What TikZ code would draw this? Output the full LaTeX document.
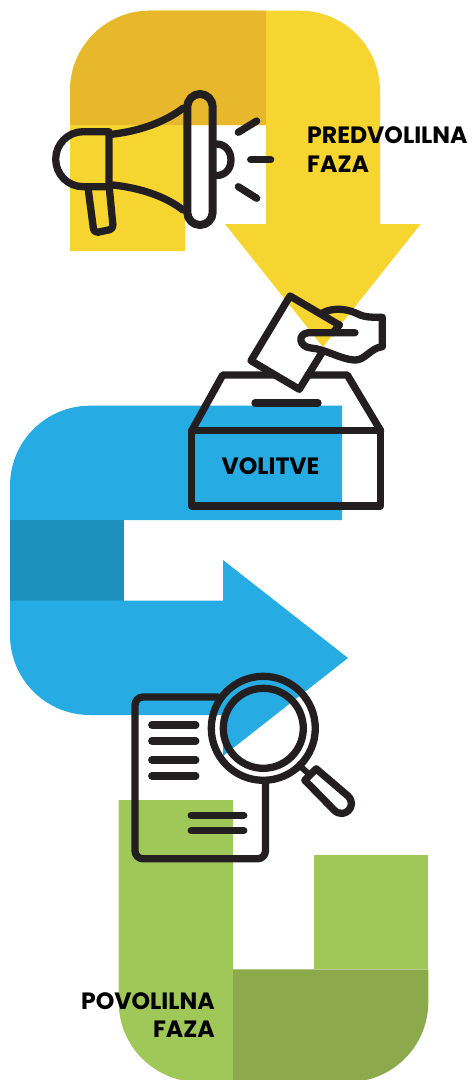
\documentclass[tikz,border=0pt]{standalone}
\usepackage{fontspec}
\usepackage{xcolor}
\setmainfont{Poppins}
\definecolor{volyellow}{RGB}{247,213,48}
\definecolor{volyellowdark}{RGB}{232,184,44}
\definecolor{volblue}{RGB}{38,171,226}
\definecolor{volbluedark}{RGB}{30,144,190}
\definecolor{volgreen}{RGB}{159,200,88}
\definecolor{volgreendark}{RGB}{140,170,75}
\definecolor{iconink}{RGB}{35,31,32}

\begin{document}
\begin{tikzpicture}[
		x=1pt, y=-1pt,
		icon/.style={draw=iconink, line width=7.3pt, line join=round, line cap=round},
		phase/.style={font=\bfseries\fontsize{23.6}{23.6}\selectfont, inner sep=0pt, text=black}
	]
		\useasboundingbox (0,0) rectangle (472,1080);
		% yellow arrow
		\fill[volyellow] (70,251) [rounded corners=80pt] -- (70,10.7) -- (380,10.7) [sharp corners] -- (380,224) -- (420.7,224) -- (323,347) -- (225,224) -- (266,224) -- (266,125) -- (185,125) -- (185,251) -- cycle;
		\fill[volyellowdark] (70,125) [rounded corners=80pt] -- (70,10.7) [sharp corners] -- (266,10.7) -- (266,125) -- cycle;
		% blue arrow
		\fill[volblue] (342,405.7) [rounded corners=80pt] -- (10,405.7) [sharp corners] -- (10,520) -- (342,520) -- cycle;
		\fill[volbluedark] (10,520) rectangle (124,600.7);
		\fill[volblue] (10,600.7) [rounded corners=80pt] -- (10,715) [sharp corners] -- (223,715) -- (223,756) -- (348,658) -- (223,560) -- (223,600.7) -- cycle;
		% green arrow
		\fill[volgreen] (118.7,800) [rounded corners=80pt] -- (118.7,1082) [sharp corners] -- (233,1082) -- (233,800) -- cycle;
		\fill[volgreen] (314,855.3) rectangle (428.3,969.3);
		\fill[volgreendark] (233,969.3) -- (428.3,969.3) [rounded corners=80pt] -- (428.3,1082) [sharp corners] -- (233,1082) -- cycle;
		% megaphone
		\draw[icon, line width=8pt, rounded corners=12.7pt] (187.3,94) rectangle (212.7,225);
		\draw[icon] (109,131.7) -- (83,131.7) .. controls (68,131.7) and (55.7,144) .. (55.7,159.2) .. controls (55.7,174.4) and (68,186.7) .. (83,186.7) -- (109,186.7) -- cycle;
		\draw[icon] (111.7,134.3) .. controls (140,131) and (165,122) .. (183.3,108);
		\draw[icon] (113,185) .. controls (140,188) and (165,196) .. (183,210);
		\draw[icon, rounded corners=4pt] (88.3,190) -- (94,233) -- (113.3,229) -- (109.3,188);
		\draw[icon] (216.7,144) .. controls (225,144) and (231,151) .. (231,160) .. controls (231,169) and (225,175.5) .. (216.7,175.5);
		\foreach \a/\b/\c/\d in {238.3/132.3/256.7/121, 250.7/159.7/270.7/159.7, 238.3/186.7/256.7/198.3}
			\draw[icon] (\a,\b) -- (\c,\d);
		% ballot box
		\draw[icon] (191.7,430.7) rectangle (380.7,506);
		\draw[icon] (275,375) -- (222.7,375) -- (191.7,430.7);
		\draw[icon] (308,375) -- (347.3,375) -- (380.7,430.7);
		\draw[icon] (255,403) -- (318,403);
		\draw[icon] (339.3,325) -- (290,296) -- (251,360.7) -- (299.3,389.3) -- (321.7,353);
		\draw[icon] (321.7,313.3) .. controls (335,306) and (350,310) .. (358,314) .. controls (366,318) and (374,317) .. (382.3,317.3) -- (382.3,346.7) .. controls (370,348) and (365,361) .. (354,360) .. controls (340,359) and (325,349) .. (311,348) .. controls (299,347) and (297,334) .. (308.3,332.7) -- (355,332.7);
		\draw[icon] (339.3,325) -- (333,332.7);
		% document and lens
		\draw[icon, rounded corners=8pt] (218,697) -- (135,697) -- (135,858.8) -- (265.5,858.8) -- (265.5,784);
		\foreach \y in {725,741,760,776}
			\draw[icon] (151.8,\y) -- (195.8,\y);
		\foreach \y in {815.3,830.7}
			\draw[icon] (191.2,\y) -- (243.8,\y);
		\draw[icon] (263.3,728.3) circle[radius=52pt];
		\draw[icon] (263.3,728.3) circle[radius=40pt];
		\draw[icon, line width=6pt] (300,766) -- (310,775);
		\draw[icon] (316.2,768.8) -- (304.8,780.2) -- (334,810) .. controls (344,820) and (358,806) .. (348,796) -- cycle;
		% labels
		\node[phase, anchor=base west] (predvolilna) at (307,143.3) {PREDVOLILNA};
		\node[phase, anchor=base west] (predfaza) at (307,172.7) {FAZA};
		\node[phase, anchor=base] (volitve) at (270.5,474) {VOLITVE};
		\node[phase, anchor=base east] (povolilna) at (215,1009.3) {POVOLILNA};
		\node[phase, anchor=base east] (pofaza) at (215,1037.7) {FAZA};
	\end{tikzpicture}
\end{document}
